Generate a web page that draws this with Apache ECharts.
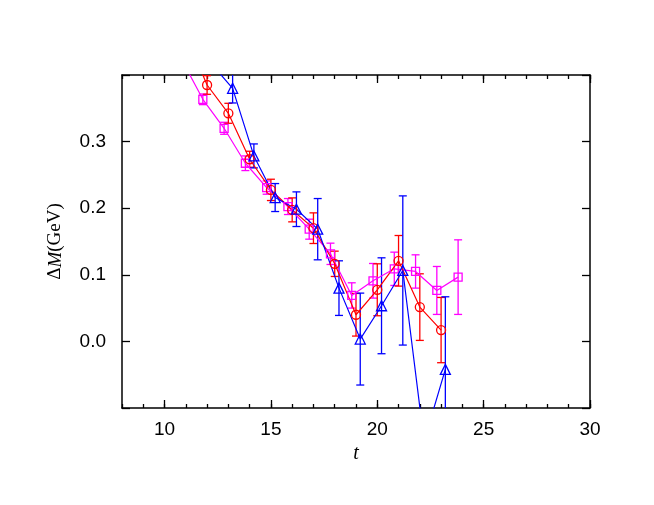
<!DOCTYPE html>
<html>
<head>
<meta charset="utf-8">
<script src="https://cdn.jsdelivr.net/npm/echarts@6/dist/echarts.min.js"></script>
<style>html,body{margin:0;padding:0;background:#fff}#c{width:654px;height:505px}</style>
</head>
<body>
<div id="c"></div>
<script>
// ---- data ----
const magT = [10.8, 11.8, 12.8, 13.8, 14.8, 15.8, 16.8, 17.8, 18.8, 19.8, 20.8, 21.8, 22.8, 23.8];
const magY = [0.4235, 0.3635, 0.320, 0.2675, 0.231, 0.2025, 0.1685, 0.1315, 0.069, 0.091, 0.109, 0.105, 0.0765, 0.0965];
const magE = [0.008, 0.008, 0.009, 0.011, 0.010, 0.012, 0.015, 0.016, 0.019, 0.026, 0.025, 0.025, 0.036, 0.056];

const redT = [11, 12, 13, 14, 15, 16, 17, 18, 19, 20, 21, 22, 23];
const redY = [0.46, 0.385, 0.3425, 0.2735, 0.2275, 0.1975, 0.170, 0.1165, 0.040, 0.0775, 0.121, 0.0515, 0.017];
const redE = [0.012, 0.014, 0.015, 0.012, 0.016, 0.018, 0.023, 0.019, 0.032, 0.039, 0.038, 0.050, 0.049];

const blueT = [12.2, 13.2, 14.2, 15.2, 16.2, 17.2, 18.2, 19.2, 20.2, 21.2, 22.2, 23.2];
const blueY = [0.417, 0.380, 0.2785, 0.216, 0.1985, 0.1685, 0.080, 0.0035, 0.0535, 0.1065, -0.15, -0.042];
const blueE = [0.015, 0.022, 0.018, 0.021, 0.026, 0.046, 0.041, 0.069, 0.072, 0.112, 0.04, 0.109];

const xMajorTicks = [10, 15, 20, 25, 30];
const yTickLabels = ['0.0', '0.1', '0.2', '0.3'];

const RED = '#ff0000', MAG = '#ff00ff', BLUE = '#0000ff';

function pts(T, Y) { return T.map((t, i) => [t, Y[i]]); }
function errPts(T, Y, E) { return T.map((t, i) => [t, Y[i], E[i]]); }

function errRender(color) {
  return function (params, api) {
    const x = api.value(0), y = api.value(1), e = api.value(2);
    const p1 = api.coord([x, y + e]);
    const p2 = api.coord([x, y - e]);
    const w = 4;
    const st = { stroke: color, lineWidth: 1.3 };
    return {
      type: 'group',
      children: [
        { type: 'line', shape: { x1: p1[0], y1: p1[1], x2: p2[0], y2: p2[1] }, style: st },
        { type: 'line', shape: { x1: p1[0] - w, y1: p1[1], x2: p1[0] + w, y2: p1[1] }, style: st },
        { type: 'line', shape: { x1: p2[0] - w, y1: p2[1], x2: p2[0] + w, y2: p2[1] }, style: st }
      ]
    };
  };
}

function lineSeries(T, Y, color, symbol, size) {
  return {
    type: 'line', xAxisIndex: 0, yAxisIndex: 0, data: pts(T, Y), clip: true,
    symbol: symbol, symbolSize: size, showAllSymbol: true,
    lineStyle: { color: color, width: 1.2 },
    itemStyle: { color: 'rgba(255,255,255,0)', borderColor: color, borderWidth: 1.3 },
    emphasis: { disabled: true }, animation: false, z: 3
  };
}
function errSeries(T, Y, E, color) {
  return {
    type: 'custom', xAxisIndex: 0, yAxisIndex: 0, data: errPts(T, Y, E), clip: true,
    encode: { x: 0, y: 1 }, renderItem: errRender(color), animation: false, z: 2, silent: true
  };
}

const FONT = 'Liberation Sans';
const axLine = { show: true, onZero: false, lineStyle: { color: '#000', width: 1.5 } };
const noLine = { show: false, onZero: false };

const chart = echarts.init(document.getElementById('c'), null, { renderer: 'canvas' });
chart.setOption({
  backgroundColor: '#fff',
  animation: false,
  grid: { left: 122, right: 64, top: 75, bottom: 97, containLabel: false },
  xAxis: [
    { // main bottom axis with major ticks and labels
      type: 'value', position: 'bottom', min: 8, max: 30,
      axisLine: axLine,
      axisTick: { show: true, inside: true, length: 8, customValues: xMajorTicks, lineStyle: { color: '#000', width: 1.3 } },
      axisLabel: { show: true, customValues: xMajorTicks, margin: 12, fontSize: 19, fontFamily: FONT, color: '#000' },
      splitLine: { show: false },
      name: 't', nameLocation: 'middle', nameGap: 33,
      nameTextStyle: { fontFamily: 'Liberation Serif', fontStyle: 'italic', fontSize: 20, color: '#000' }
    },
    { // bottom minor ticks
      type: 'value', position: 'bottom', min: 8, max: 30, interval: 1,
      axisLine: noLine,
      axisTick: { show: true, inside: true, length: 4, lineStyle: { color: '#000', width: 1.3 } },
      axisLabel: { show: false }, splitLine: { show: false }
    },
    { // top major ticks
      type: 'value', position: 'top', min: 8, max: 30,
      axisLine: axLine,
      axisTick: { show: true, inside: true, length: 8, customValues: xMajorTicks, lineStyle: { color: '#000', width: 1.3 } },
      axisLabel: { show: false }, splitLine: { show: false }
    },
    { // top minor ticks
      type: 'value', position: 'top', min: 8, max: 30, interval: 1,
      axisLine: noLine,
      axisTick: { show: true, inside: true, length: 4, lineStyle: { color: '#000', width: 1.3 } },
      axisLabel: { show: false }, splitLine: { show: false }
    }
  ],
  yAxis: [
    {
      type: 'value', position: 'left', min: -0.1, max: 0.4, interval: 0.1,
      axisLine: axLine,
      axisTick: { show: true, inside: true, length: 8, lineStyle: { color: '#000', width: 1.3 } },
      axisLabel: {
        show: true, margin: 16, fontSize: 19, fontFamily: FONT, color: '#000',
        formatter: function (v) {
          const k = Math.round(v * 10);
          return (k >= 0 && k < yTickLabels.length) ? yTickLabels[k] : '';
        }
      },
      splitLine: { show: false },
      name: '{d|Δ}{m|M}{n|(GeV)}', nameLocation: 'middle', nameGap: 57, nameRotate: 90,
      nameTextStyle: {
        color: '#000',
        rich: {
          d: { fontFamily: 'Liberation Serif', fontSize: 19, color: '#000' },
          m: { fontFamily: 'Liberation Serif', fontStyle: 'italic', fontSize: 19, color: '#000' },
          n: { fontFamily: 'Liberation Serif', fontSize: 19, color: '#000' }
        }
      }
    },
    {
      type: 'value', position: 'right', min: -0.1, max: 0.4, interval: 0.1,
      axisLine: axLine,
      axisTick: { show: true, inside: true, length: 8, lineStyle: { color: '#000', width: 1.3 } },
      axisLabel: { show: false }, splitLine: { show: false }
    }
  ],
  series: [
    errSeries(magT, magY, magE, MAG),
    lineSeries(magT, magY, MAG, 'rect', 8),
    errSeries(redT, redY, redE, RED),
    lineSeries(redT, redY, RED, 'circle', 9),
    errSeries(blueT, blueY, blueE, BLUE),
    lineSeries(blueT, blueY, BLUE, 'triangle', 10)
  ]
});
</script>
</body>
</html>
